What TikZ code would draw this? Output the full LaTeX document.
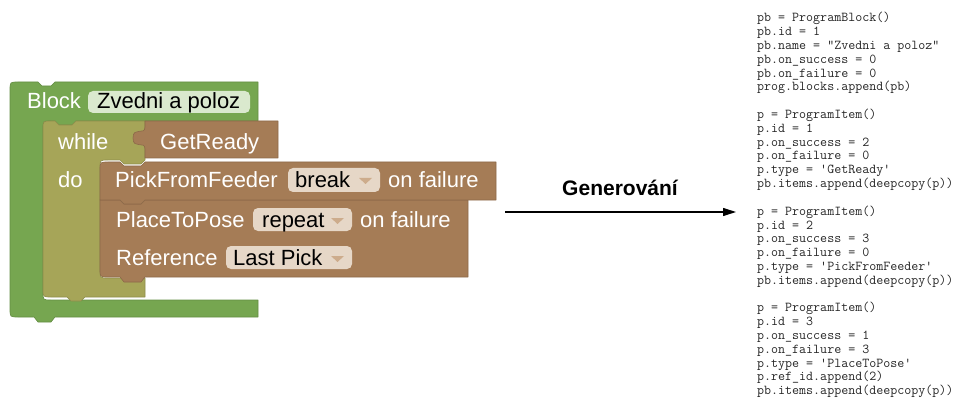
\documentclass[tikz,border=0pt]{standalone}
\usepackage{fontspec}
\setmainfont{Liberation Sans}
\usetikzlibrary{arrows.meta}
\definecolor{gB}{RGB}{118,166,80}
\definecolor{oB}{RGB}{166,165,88}
\definecolor{bB}{RGB}{165,124,86}
\definecolor{gF}{RGB}{218,233,206}
\definecolor{bF}{RGB}{230,215,199}
\definecolor{bT}{RGB}{205,172,140}
\tikzset{
  blk/.style={line width=0.6pt, line join=round},
  lbl/.style={anchor=base west, inner sep=0pt, text=white, font=\fontsize{22}{26}\selectfont},
  fld/.style={anchor=base west, inner sep=0pt, text=black, font=\fontsize{22}{26}\selectfont},
  fldbox/.style={rounded corners=5pt, line width=0pt},
  ddtri/.style={fill=bT, draw=none},
  code/.style={anchor=base west, inner sep=0pt, text=black!85, font=\ttfamily\fontsize{13.6}{13.8}\selectfont},
  gen/.style={anchor=base, inner sep=0pt, font=\bfseries\fontsize{21}{25}\selectfont},
}
\begin{document}
\begin{tikzpicture}[x=1pt,y=-1pt]
\useasboundingbox (0,0) rectangle (963,398);
% green Block
\draw[blk, fill=gB, draw=gB!85!black]
  (10,90) .. controls (10,82) .. (18,82) -- (38,82) -- (42,86) -- (51,86) -- (55,82) -- (258,82) -- (258,121)
  -- (76,121) -- (72,125) -- (59,125) -- (55,121) -- (51,121) .. controls (43,121) .. (43,129)
  -- (43,292) .. controls (43,300) .. (51,300) -- (258,300) -- (258,317)
  -- (55,317) -- (51,322) -- (38,322) -- (34,317) -- (18,317) .. controls (10,317) .. (10,309) -- cycle;
% olive while block
\draw[blk, fill=oB, draw=oB!85!black]
  (43,129) .. controls (43,121) .. (51,121) -- (55,121) -- (59,125) -- (72,125) -- (76,121) -- (145,121) -- (145,160)
  -- (145,160) -- (141,164) -- (124,164) -- (120,160) -- (108,160) .. controls (100,160) .. (100,168)
  -- (100,270) .. controls (100,278) .. (108,278) -- (145,278) -- (145,297)
  -- (85,297) -- (81,301) -- (71,301) -- (67,297) -- (51,297) .. controls (43,297) .. (43,289) -- cycle;
% GetReady
\draw[blk, fill=bB, draw=bB!85!black]
  (145,121) -- (278,121) -- (278,158) -- (145,158) -- (145,149)
  .. controls (145,140) and (133,150) .. (133,138) .. controls (133,126) and (145,136) .. (145,127) -- cycle;
% PlaceToPose / Reference
\draw[blk, fill=bB, draw=bB!85!black]
  (100,200) -- (120,200) -- (124,204) -- (141,204) -- (145,200) -- (468,200) -- (468,277)
  -- (145,277) -- (141,282) -- (124,282) -- (120,277) -- (108,277) .. controls (100,277) .. (100,269) -- cycle;
% PickFromFeeder
\draw[blk, fill=bB, draw=bB!85!black]
  (100,170) .. controls (100,162) .. (108,162) -- (120,162) -- (124,166) -- (141,166) -- (145,162) -- (496,162)
  -- (496,200) -- (145,200) -- (141,204) -- (124,204) -- (120,200) -- (100,200) -- cycle;
% fields
\fill[gF, fldbox] (88,91) rectangle (250,113);
\fill[bF, fldbox] (288,168) rectangle (380,192);
\fill[bF, fldbox] (253,208) rectangle (352,231);
\fill[bF, fldbox] (226,246) rectangle (352,269);
\fill[ddtri] (359,178) -- (372,178) -- (365.5,184) -- cycle;
\fill[ddtri] (331,218) -- (344,218) -- (337.5,224) -- cycle;
\fill[ddtri] (331,256) -- (344,256) -- (337.5,262) -- cycle;
% labels
\node[lbl] (tBlock) at (27,109) {Block};
\node[fld] (tName) at (97,109) {Zvedni a poloz};
\node[lbl] (tWhile) at (58,150) {while};
\node[lbl] (tGet) at (160,150) {GetReady};
\node[lbl] (tDo) at (58,187) {do};
\node[lbl] (tPick) at (115,187) {PickFromFeeder};
\node[fld] (tBreak) at (295,187) {break};
\node[lbl] (tOnF1) at (388,187) {on failure};
\node[lbl] (tPlace) at (116,227) {PlaceToPose};
\node[fld] (tRepeat) at (262,227) {repeat};
\node[lbl] (tOnF2) at (360,227) {on failure};
\node[lbl] (tRef) at (116,265) {Reference};
\node[fld] (tLast) at (233,265) {Last Pick};
% arrow
\node[gen] (gen) at (620,196) {Generování};
\coordinate (aS) at (505,212);
\coordinate (aE) at (736,212);
\draw[line width=1.1pt, -{Triangle[length=13pt,width=8pt]}] (aS) -- (aE);
% code
\foreach \ln [count=\k from 0] in {{pb = ProgramBlock()},{pb.id = 1},{pb.name = "Zvedni a poloz"},{pb.on\_success = 0},{pb.on\_failure = 0},{prog.blocks.append(pb)}}
  \node[code] (ca\k) at (757,{22+13.8*\k}) {\ln};
\foreach \ln [count=\k from 7] in {{p = ProgramItem()},{p.id = 1},{p.on\_success = 2},{p.on\_failure = 0},{p.type = 'GetReady'},{pb.items.append(deepcopy(p))}}
  \node[code] (cb\k) at (757,{22+13.8*\k}) {\ln};
\foreach \ln [count=\k from 14] in {{p = ProgramItem()},{p.id = 2},{p.on\_success = 3},{p.on\_failure = 0},{p.type = 'PickFromFeeder'},{pb.items.append(deepcopy(p))}}
  \node[code] (cc\k) at (757,{22+13.8*\k}) {\ln};
\foreach \ln [count=\k from 21] in {{p = ProgramItem()},{p.id = 3},{p.on\_success = 1},{p.on\_failure = 3},{p.type = 'PlaceToPose'},{p.ref\_id.append(2)},{pb.items.append(deepcopy(p))}}
  \node[code] (cd\k) at (757,{22+13.8*\k}) {\ln};
\end{tikzpicture}
\end{document}
